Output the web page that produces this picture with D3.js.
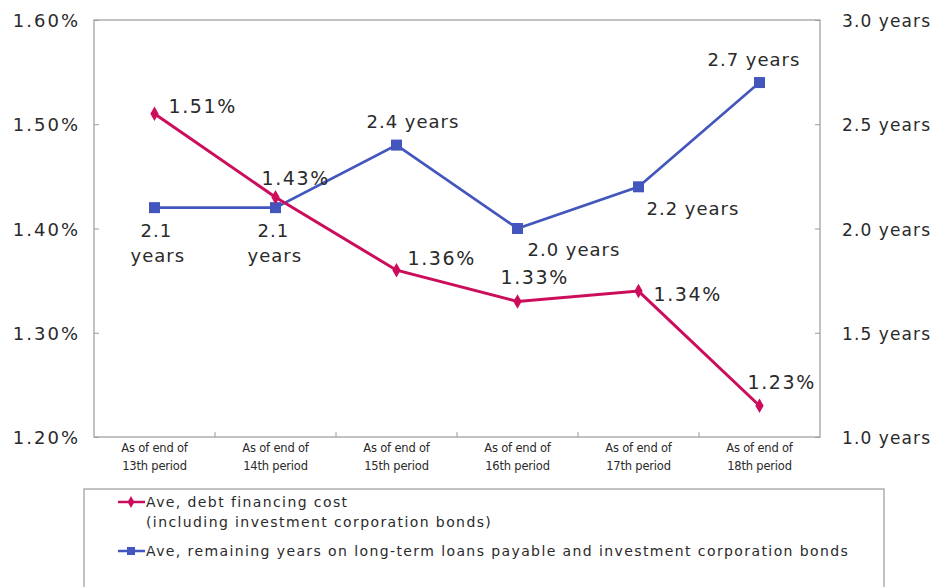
<!DOCTYPE html>
<html>
<head>
<meta charset="utf-8">
<script src="https://cdn.jsdelivr.net/npm/d3@7"></script>
<style>
  body { margin: 0; background: #fff; }
  svg { font-family: "DejaVu Sans", "Liberation Sans", sans-serif; }
  text { fill: #2a2a2a; }
</style>
</head>
<body>
<div id="chart"></div>
<script>
var periods = ['13th', '14th', '15th', '16th', '17th', '18th'];
var costValues = [1.51, 1.43, 1.36, 1.33, 1.34, 1.23];
var yearValues = [2.1, 2.1, 2.4, 2.0, 2.2, 2.7];
var leftTicks = [1.2, 1.3, 1.4, 1.5, 1.6];
var rightTicks = [1.0, 1.5, 2.0, 2.5, 3.0];
var legendNames = [
  ['Ave, debt financing cost', '(including investment corporation bonds)'],
  ['Ave, remaining years on long-term loans payable and investment corporation bonds']
];

var width = 934, height = 587;
var plot = { left: 94, right: 820, top: 20, bottom: 437 };
var red = '#cc0d5c', blue = '#4356be';

var svg = d3.select('#chart').append('svg')
  .attr('width', width)
  .attr('height', height);

var x = d3.scaleBand().domain(periods).range([plot.left, plot.right]);
var yL = d3.scaleLinear().domain([1.2, 1.6]).range([plot.bottom, plot.top]);
var yR = d3.scaleLinear().domain([1.0, 3.0]).range([plot.bottom, plot.top]);
var cx = function(i) { return x(periods[i]) + x.bandwidth() / 2; };

// plot frame
svg.append('rect')
  .attr('x', plot.left).attr('y', plot.top)
  .attr('width', plot.right - plot.left).attr('height', plot.bottom - plot.top)
  .attr('fill', 'none').attr('stroke', '#9a9a9a').attr('stroke-width', 1.2);

// left axis, ticks pointing inward
var leftAxis = svg.append('g')
  .attr('transform', 'translate(' + plot.left + ',0)')
  .call(d3.axisRight(yL).tickValues(leftTicks).tickSize(5).tickFormat(''));
leftAxis.select('.domain').remove();
leftAxis.selectAll('line').attr('stroke', '#9a9a9a');
svg.append('g').selectAll('text').data(leftTicks).enter().append('text')
  .attr('x', 80).attr('y', function(d) { return yL(d) + 7; })
  .attr('text-anchor', 'end')
  .attr('font-size', 18).attr('letter-spacing', 2)
  .text(function(d) { return d.toFixed(2) + '%'; });

// right axis
var rightAxis = svg.append('g')
  .attr('transform', 'translate(' + plot.right + ',0)')
  .call(d3.axisLeft(yR).tickValues(rightTicks).tickSize(5).tickFormat(''));
rightAxis.select('.domain').remove();
rightAxis.selectAll('line').attr('stroke', '#9a9a9a');
svg.append('g').selectAll('text').data(rightTicks).enter().append('text')
  .attr('x', 842).attr('y', function(d) { return yR(d) + 7; })
  .attr('font-size', 17).attr('letter-spacing', 1.1)
  .text(function(d) { return d.toFixed(1) + ' years'; });

// x axis: small ticks at category boundaries
svg.append('g').selectAll('line').data(periods.slice(1)).enter().append('line')
  .attr('x1', function(d) { return x(d); }).attr('x2', function(d) { return x(d); })
  .attr('y1', plot.bottom).attr('y2', plot.bottom - 5)
  .attr('stroke', '#9a9a9a');
var xl = svg.append('g').selectAll('text').data(periods).enter().append('text')
  .attr('text-anchor', 'middle')
  .attr('font-size', 11.5).attr('letter-spacing', -0.2);
xl.append('tspan').attr('x', function(d) { return x(d) + x.bandwidth() / 2; }).attr('y', 452)
  .text('As of end of');
xl.append('tspan').attr('x', function(d) { return x(d) + x.bandwidth() / 2; }).attr('y', 470)
  .text(function(d) { return d + ' period'; });

// lines
var costLine = d3.line().x(function(d, i) { return cx(i); }).y(function(d) { return yL(d); });
var yearLine = d3.line().x(function(d, i) { return cx(i); }).y(function(d) { return yR(d); });

svg.append('path').datum(yearValues)
  .attr('d', yearLine).attr('fill', 'none').attr('stroke', blue).attr('stroke-width', 2.6);
svg.append('path').datum(costValues)
  .attr('d', costLine).attr('fill', 'none').attr('stroke', red).attr('stroke-width', 3);

svg.append('g').selectAll('rect').data(yearValues).enter().append('rect')
  .attr('x', function(d, i) { return cx(i) - 5.5; })
  .attr('y', function(d) { return yR(d) - 5.5; })
  .attr('width', 11).attr('height', 11).attr('fill', blue);

svg.append('g').selectAll('path').data(costValues).enter().append('path')
  .attr('d', d3.symbol(d3.symbolDiamond, 60))
  .attr('transform', function(d, i) { return 'translate(' + cx(i) + ',' + yL(d) + ')'; })
  .attr('fill', red);

// data labels (offsets relative to each point)
var costOffsets = [[14, -1], [-14, -12], [11, -5], [-17, -17], [15, 10], [-12, -17]];
svg.append('g').selectAll('text').data(costValues).enter().append('text')
  .attr('x', function(d, i) { return cx(i) + costOffsets[i][0]; })
  .attr('y', function(d, i) { return yL(d) + costOffsets[i][1]; })
  .attr('font-size', 19).attr('letter-spacing', 1.6)
  .text(function(d) { return d.toFixed(2) + '%'; });

var yearOffsets = [[-24, 29], [-28, 29], [-30, -17], [10, 27], [8, 28], [-52, -17]];
var yl = svg.append('g').selectAll('text').data(yearValues).enter().append('text')
  .attr('font-size', 18).attr('letter-spacing', 1);
yl.each(function(d, i) {
  var t = d3.select(this);
  var px = cx(i) + yearOffsets[i][0], py = yR(d) + yearOffsets[i][1];
  if (i < 2) {
    t.append('tspan').attr('x', px + 10).attr('y', py).text(d.toFixed(1));
    t.append('tspan').attr('x', px).attr('y', py + 25).text('years');
  } else {
    t.attr('x', px).attr('y', py).text(d.toFixed(1) + ' years');
  }
});

// legend
svg.append('rect')
  .attr('x', 84).attr('y', 489).attr('width', 800).attr('height', 110)
  .attr('fill', 'none').attr('stroke', '#9a9a9a').attr('stroke-width', 1.2);

var legendColors = [red, blue];
var legendY = [507, 556];
legendNames.forEach(function(lines, k) {
  var g = svg.append('g');
  g.append('line').attr('x1', 118).attr('x2', 145)
    .attr('y1', legendY[k] - 5).attr('y2', legendY[k] - 5)
    .attr('stroke', legendColors[k]).attr('stroke-width', 2.5);
  if (k === 0) {
    g.append('path').attr('d', d3.symbol(d3.symbolDiamond, 40))
      .attr('transform', 'translate(131,' + (legendY[k] - 5) + ')').attr('fill', red);
  } else {
    g.append('rect').attr('x', 127).attr('y', legendY[k] - 9).attr('width', 8).attr('height', 8).attr('fill', blue);
  }
  lines.forEach(function(s, j) {
    g.append('text').attr('x', 146).attr('y', legendY[k] + j * 20)
      .attr('font-size', 14).attr('letter-spacing', 1.4)
      .text(s);
  });
});
</script>
</body>
</html>
